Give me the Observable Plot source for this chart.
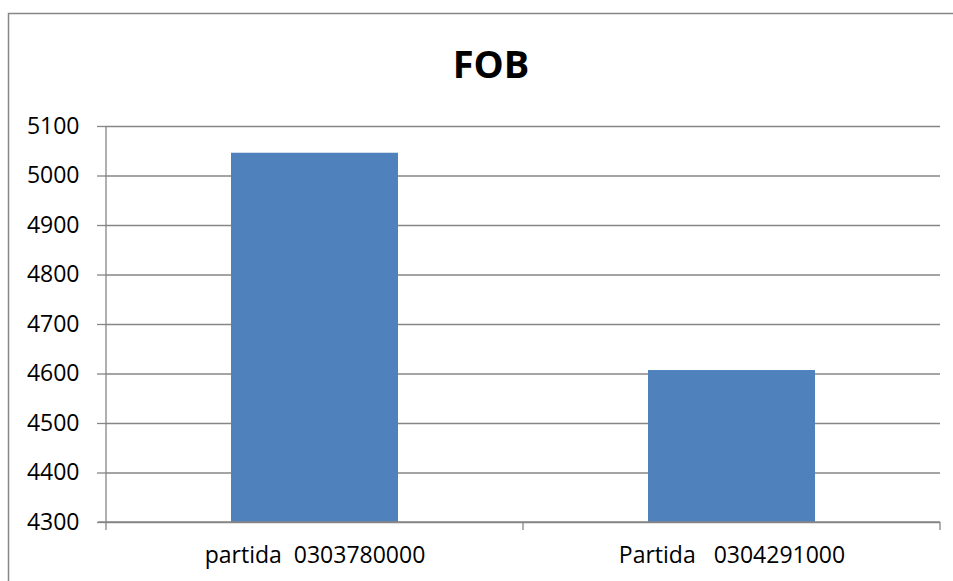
<!DOCTYPE html>
<html>
<head>
<meta charset="utf-8">
<script src="https://cdn.jsdelivr.net/npm/d3@7"></script>
<script src="https://cdn.jsdelivr.net/npm/@observablehq/plot@0.6"></script>
<style>
  html, body { margin: 0; padding: 0; background: #fff; }
  #chart svg { display: block; }
</style>
</head>
<body>
<div id="chart"></div>
<script>
const title = "FOB";
const categories = ["partida  0303780000", "Partida   0304291000"];
const values = [5046, 4607];
const yTicks = [4300, 4400, 4500, 4600, 4700, 4800, 4900, 5000, 5100];

const data = categories.map((c, i) => ({category: c, value: values[i]}));
const font = "'Open Sans', 'Noto Sans', sans-serif";
const gray = "#868686";

const plot = Plot.plot({
  width: 953,
  height: 581,
  marginLeft: 105,
  marginRight: 13,
  marginTop: 126,
  marginBottom: 59,
  style: {fontFamily: font, background: "#fff", overflow: "visible"},
  x: {domain: categories, paddingInner: 0.6, paddingOuter: 0.3, label: null},
  y: {domain: [4300, 5100], label: null},
  marks: [
    Plot.ruleY(yTicks, {stroke: gray, strokeWidth: 1.3}),
    Plot.barY(data, {x: "category", y1: 4300, y2: "value", fill: "#4F81BD"}),
    Plot.axisY(yTicks, {tickSize: 8, tickPadding: 18, fontSize: 23, stroke: gray, fill: "black", strokeWidth: 1.3, tickFormat: d => String(d)}),
    Plot.axisX({tickSize: 0, tickPadding: 24, fontSize: 23, fill: "black"}),
    Plot.text([title], {frameAnchor: "top", dx: -32, dy: -49, lineAnchor: "bottom", fontSize: 38, fontWeight: "bold", fill: "black"})
  ]
});

document.getElementById("chart").appendChild(plot);

// chart area border and axis lines, derived from the plot scales
const svg = d3.select(plot);
const xs = plot.scale("x");
const ys = plot.scale("y");
const step = xs.step;
const [yMin, yMax] = ys.domain;
const yBottom = ys.apply(yMin), yTop = ys.apply(yMax);
const xLeft = xs.apply(categories[0]) - (step - xs.bandwidth) / 2;
const bounds = categories.map((c, i) => xLeft + i * step).concat([xLeft + categories.length * step]);

svg.insert("rect", ":first-child")
  .attr("x", 8.5).attr("y", 13.5).attr("width", 2000).attr("height", 2000)
  .attr("fill", "none").attr("stroke", gray).attr("stroke-width", 1.5);

svg.append("line")
  .attr("x1", bounds[0]).attr("x2", bounds[0]).attr("y1", yTop).attr("y2", yBottom)
  .attr("stroke", gray).attr("stroke-width", 1.3);
svg.append("line")
  .attr("x1", bounds[0] - 8).attr("x2", bounds[bounds.length - 1]).attr("y1", yBottom).attr("y2", yBottom)
  .attr("stroke", gray).attr("stroke-width", 1.3);
svg.selectAll("line.xt").data(bounds).join("line")
  .attr("class", "xt")
  .attr("x1", d => d).attr("x2", d => d).attr("y1", yBottom).attr("y2", yBottom + 8)
  .attr("stroke", gray).attr("stroke-width", 1.3);
</script>
</body>
</html>
